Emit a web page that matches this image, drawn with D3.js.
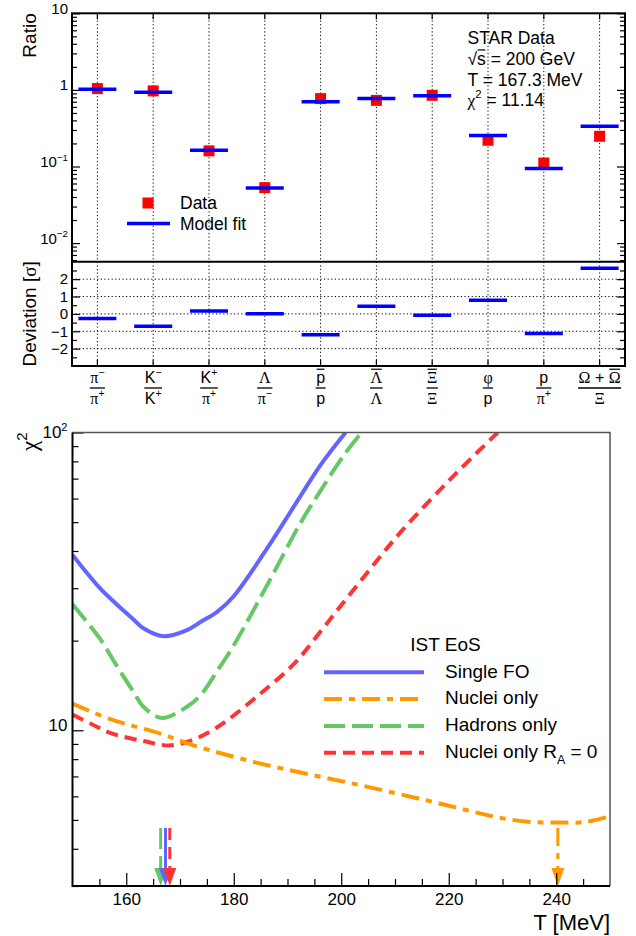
<!DOCTYPE html>
<html>
<head>
<meta charset="utf-8">
<script src="https://cdn.jsdelivr.net/npm/d3@7"></script>
<style>
  body { margin: 0; background: #fff; }
  text { font-family: "Liberation Sans", Arial, sans-serif; fill: #000; }
</style>
</head>
<body>
<svg id="chart" width="636" height="936"></svg>
<script>
/* Particle ratios (top) and chi2 vs T scan (bottom). */

// ---- ratio panel data ----
var ratioNum = ["π^{−}", "K^{−}", "K^{+}", "Λ", "#bar{p}", "#bar{Λ}", "#bar{Ξ}", "φ", "p", "Ω + #bar{Ω}"],
  ratioDen = ["π^{+}", "K^{+}", "π^{+}", "π^{−}", "p", "Λ", "Ξ", "p", "π^{+}", "Ξ"],
  ratioData = [1.04, 0.97, 0.16, 0.053, 0.77, 0.73, 0.85, 0.22, 0.111, 0.248],
  ratioModel = [1.02, 0.93, 0.163, 0.0524, 0.70, 0.77, 0.84, 0.253, 0.094, 0.335],
  ratioDeviation = [-0.27, -0.71, 0.16, 0.01, -1.2, 0.44, -0.08, 0.79, -1.13, 2.63],
  ratioTicks = [0.01, 0.1, 1, 10],
  ratioTickLabels = ["10^{−2}", "10^{−1}", "1", "10"],
  devTicks = [-2, -1, 0, 1, 2],
  fitInfo = ["STAR Data", "√#bar{s} = 200 GeV", "T = 167.3 MeV", "χ^{2} = 11.14"];

// ---- chi2 scan data ----
var tSingleFO = [150, 155.1, 158.2, 161.3, 163.2, 166.9, 171.3, 173.8, 176.9, 180, 186.2, 192.5, 196.2, 200.8],
  chi2SingleFO = [38.8, 30.0, 26.5, 23.6, 22.0, 20.7, 21.7, 23.1, 25.0, 28.2, 40.8, 61.5, 78, 100],
  tNuclei = [150, 157, 166.3, 172.5, 185, 203.7, 215.8, 221.1, 226, 230.4, 235.4, 240.3, 245.3, 250],
  chi2Nuclei = [12.3, 10.9, 9.75, 8.9, 7.73, 6.53, 5.82, 5.52, 5.25, 5.05, 4.92, 4.90, 4.92, 5.14],
  tHadrons = [150, 155.1, 158.2, 161.3, 163.2, 166.6, 171.3, 173.8, 176.9, 180, 186.2, 192.5, 196.2, 200.5, 203.8],
  chi2Hadrons = [26.5, 20.3, 16.5, 13.5, 12.0, 11.0, 12.0, 13.1, 15.8, 19.3, 30.7, 50, 64, 84, 100],
  tNucleiRA0 = [150, 153.5, 157, 163.2, 168.2, 172.5, 175.6, 178.8, 185, 191.2, 196, 200, 205.5, 211.1, 220.4, 229.1],
  chi2NucleiRA0 = [11.3, 10.5, 9.8, 9.2, 8.9, 9.3, 9.9, 10.8, 13.3, 16.7, 21.3, 26.3, 35, 46.4, 70, 100],
  seriesNames = ["Single FO", "Nuclei only", "Hadrons only", "Nuclei only R_{A} = 0"],
  minimumT = [167.3, 240.3, 166.4, 168.1],
  arrowTopChi2 = 4.7,
  tTicks = [160, 180, 200, 220, 240],
  chi2Ticks = [10, 100],
  chi2TickLabels = ["10", "10^{2}"];

var svg = d3.select("#chart");

// Writes ROOT-like rich text (^{} sup, _{} sub, #bar{} overline) into a text element.
function richText(text, str, size) {
  var parts = str.split(/(\^\{[^}]*\}|_\{[^}]*\}|#bar\{[^}]*\})/).filter(function (s) { return s.length; }),
    shift = 0;
  text.attr("font-size", size);
  parts.forEach(function (p) {
    var kind = "n", t = p;
    if (p.indexOf("^{") === 0) { kind = "sup"; t = p.slice(2, -1); }
    else if (p.indexOf("_{") === 0) { kind = "sub"; t = p.slice(2, -1); }
    else if (p.indexOf("#bar{") === 0) { kind = "bar"; t = p.slice(5, -1); }
    var target = kind === "sup" ? -0.42 * size : kind === "sub" ? 0.3 * size : 0;
    t.match(/[\u0370-\u03ff]+|[^\u0370-\u03ff]+/g).forEach(function (r, k) {
      var ts = text.append("tspan").text(r).classed("ovl", kind === "bar");
      if (k === 0) ts.attr("dy", target - shift);
      if (kind === "sup" || kind === "sub") ts.attr("font-size", size * 0.65);
      if (/[\u0370-\u03ff]/.test(r)) ts.attr("font-family", "Liberation Serif");
    });
    shift = target;
  });
}

// Draws overlines over the #bar{} tspans of an unrotated text element.
function drawBars(g, text, baseline, size) {
  var cur = text.node().getBBox().x;
  text.selectAll("tspan").each(function () {
    var w = this.getComputedTextLength();
    if (d3.select(this).classed("ovl")) {
      g.append("line")
        .attr("x1", cur + 0.5).attr("x2", cur + w - 0.5)
        .attr("y1", baseline - 0.86 * size).attr("y2", baseline - 0.86 * size)
        .attr("stroke", "#000").attr("stroke-width", 1.2);
    }
    cur += w;
  });
}

function label(g, x, y, str, size, anchor) {
  var t = g.append("text").attr("x", x).attr("y", y).attr("text-anchor", anchor || "start");
  richText(t, str, size);
  drawBars(g, t, y, size);
  return t;
}

// Replace plain tick labels of an axis group by rich text.
function richTicks(g, values, labels, size) {
  g.selectAll(".tick text").each(function (d) {
    var i = values.indexOf(d);
    if (i < 0 || this.textContent === "") return;
    var t = d3.select(this).text("").attr("dy", "0.35em");
    richText(t, labels[i], size);
  });
}

// ================= TOP: ratios =================
var ratioG = svg.append("g"),
  left = 72, right = 625, yTop = 13.3, ySplit = 261.8, yBot = 366,
  cats = d3.range(ratioNum.length),
  x = d3.scalePoint().domain(cats).range([left, right]).padding(0.455),
  yRatio = d3.scaleLog().domain([0.0057, 10]).range([ySplit, yTop]),
  yDev = d3.scaleLinear().domain([-3, 3]).range([yBot, ySplit]),
  barW = 38;

// dotted grid
ratioG.selectAll(".vgrid").data(cats).enter().append("line")
  .attr("x1", function (d) { return x(d); })
  .attr("x2", function (d) { return x(d); })
  .attr("y1", yTop).attr("y2", yBot)
  .attr("stroke", "#000").attr("stroke-width", 1).attr("stroke-dasharray", "1.2,2.4");
ratioG.selectAll(".hgrid").data(devTicks).enter().append("line")
  .attr("x1", left).attr("x2", right)
  .attr("y1", function (d) { return yDev(d); })
  .attr("y2", function (d) { return yDev(d); })
  .attr("stroke", "#000").attr("stroke-width", 1).attr("stroke-dasharray", "1.2,2.4");

// y axes for ratio panel
var minorRatio = [];
[0.001, 0.01, 0.1, 1].forEach(function (dec) {
  d3.range(2, 10).forEach(function (m) {
    var v = dec * m;
    if (v >= 0.0057 && v <= 10) minorRatio.push(v);
  });
});

function tickAxes(g, scale, majors, minors, majorLen, minorLen, fmt) {
  g.append("g").attr("transform", "translate(" + left + ",0)")
    .call(d3.axisLeft(scale).tickValues(majors).tickSizeInner(-majorLen).tickSizeOuter(0).tickPadding(4).tickFormat(fmt));
  g.append("g").attr("transform", "translate(" + left + ",0)")
    .call(d3.axisLeft(scale).tickValues(minors).tickSizeInner(-minorLen).tickSizeOuter(0).tickFormat(""));
  g.append("g").attr("transform", "translate(" + right + ",0)")
    .call(d3.axisRight(scale).tickValues(majors).tickSizeInner(-majorLen).tickSizeOuter(0).tickFormat(""));
  g.append("g").attr("transform", "translate(" + right + ",0)")
    .call(d3.axisRight(scale).tickValues(minors).tickSizeInner(-minorLen).tickSizeOuter(0).tickFormat(""));
  g.selectAll(".domain").remove();
  g.selectAll("g").attr("font-family", null).attr("font-size", null);
  g.selectAll(".tick line").attr("stroke", "#000").attr("stroke-width", 1.2);
}

var ratioAxis = ratioG.append("g");
tickAxes(ratioAxis, yRatio, ratioTicks, minorRatio, 8, 5, function (d) { return String(d); });
richTicks(ratioAxis, ratioTicks, ratioTickLabels, 15);

var devAxis = ratioG.append("g");
tickAxes(devAxis, yDev, devTicks, [-2.5, -1.5, -0.5, 0.5, 1.5, 2.5], 8, 5, d3.format("d"));
devAxis.selectAll(".tick text").attr("font-size", 15);

// category ticks on top and bottom edges
ratioG.selectAll(".ctick").data(cats).enter().append("path")
  .attr("d", function (d) {
    return "M" + x(d) + "," + yTop + "v6M" + x(d) + "," + yBot + "v-6";
  })
  .attr("stroke", "#000").attr("stroke-width", 1.2);

// data squares then model bars
ratioG.selectAll(".data").data(ratioData).enter().append("rect")
  .attr("x", function (d, i) { return x(i) - 5.5; })
  .attr("y", function (d) { return yRatio(d) - 5.5; })
  .attr("width", 11).attr("height", 11)
  .attr("fill", "#ff0000");
ratioG.selectAll(".model").data(ratioModel).enter().append("line")
  .attr("x1", function (d, i) { return x(i) - barW / 2; })
  .attr("x2", function (d, i) { return x(i) + barW / 2; })
  .attr("y1", function (d) { return yRatio(d); })
  .attr("y2", function (d) { return yRatio(d); })
  .attr("stroke", "#0000ff").attr("stroke-width", 3.5);
ratioG.selectAll(".dev").data(ratioDeviation).enter().append("line")
  .attr("x1", function (d, i) { return x(i) - barW / 2; })
  .attr("x2", function (d, i) { return x(i) + barW / 2; })
  .attr("y1", function (d) { return yDev(d); })
  .attr("y2", function (d) { return yDev(d); })
  .attr("stroke", "#0000ff").attr("stroke-width", 3.5);

// frames
ratioG.append("rect").attr("x", left).attr("y", yTop).attr("width", right - left).attr("height", yBot - yTop)
  .attr("fill", "none").attr("stroke", "#000").attr("stroke-width", 2);
ratioG.append("line").attr("x1", left).attr("x2", right).attr("y1", ySplit).attr("y2", ySplit)
  .attr("stroke", "#000").attr("stroke-width", 2);

// axis titles
var rt = ratioG.append("text").attr("transform", "translate(36," + yTop + ") rotate(-90)").attr("text-anchor", "end");
richText(rt, "Ratio", 19);
var dt = ratioG.append("text").attr("transform", "translate(36," + (yDev(0)) + ") rotate(-90)").attr("text-anchor", "middle");
richText(dt, "Deviation [σ]", 19);

// category fraction labels
cats.forEach(function (i) {
  var g = ratioG.append("g"),
    n = label(g, x(i), 383, ratioNum[i], 16, "middle"),
    dn = label(g, x(i), 403.5, ratioDen[i], 16, "middle"),
    w = Math.max(n.node().getComputedTextLength(), dn.node().getComputedTextLength()) + 1;
  g.append("line").attr("x1", x(i) - w / 2).attr("x2", x(i) + w / 2)
    .attr("y1", 388).attr("y2", 388).attr("stroke", "#000").attr("stroke-width", 1.3);
});

// legend
ratioG.append("rect").attr("x", 142.5).attr("y", 197.5).attr("width", 11).attr("height", 11).attr("fill", "#ff0000");
ratioG.append("line").attr("x1", 127).attr("x2", 170).attr("y1", 223.5).attr("y2", 223.5)
  .attr("stroke", "#0000ff").attr("stroke-width", 3.5);
label(ratioG, 180, 208.5, "Data", 17.5);
label(ratioG, 180, 229.5, "Model fit", 17.5);

// fit info
fitInfo.forEach(function (s, i) {
  label(ratioG, 467.5, [44.3, 65, 85.7, 105.7][i], s, 17.5);
});

// ================= BOTTOM: chi2 scan =================
var scanG = svg.append("g"),
  bLeft = 72.5, bRight = 610, bTop = 432.5, bBot = 886,
  xT = d3.scaleLinear().domain([150, 250]).range([bLeft, bRight]),
  yChi = d3.scaleLog().domain([3, 100]).range([bBot, bTop]),
  colors = ["#6464ff", "#ff9900", "#64c864", "#ff3434"],
  dashes = [null, "18,7,6,7", "21,7", "12,7"],
  seriesT = [tSingleFO, tNuclei, tHadrons, tNucleiRA0],
  seriesChi2 = [chi2SingleFO, chi2Nuclei, chi2Hadrons, chi2NucleiRA0];

scanG.append("clipPath").attr("id", "clipChi")
  .append("rect").attr("x", bLeft).attr("y", bTop).attr("width", bRight - bLeft).attr("height", bBot - bTop);

var line = d3.line()
  .x(function (d) { return xT(d[0]); })
  .y(function (d) { return yChi(d[1]); })
  .curve(d3.curveCatmullRom.alpha(0.5));

// draw order: R_A = 0, nuclei, hadrons, single FO
[3, 1, 2, 0].forEach(function (s) {
  scanG.append("path")
    .datum(d3.zip(seriesT[s], seriesChi2[s]))
    .attr("d", line)
    .attr("clip-path", "url(#clipChi)")
    .attr("fill", "none")
    .attr("stroke", colors[s])
    .attr("stroke-width", 4)
    .attr("stroke-dasharray", dashes[s]);
});

// arrows marking the minima
[1, 2, 0, 3].forEach(function (s) {
  var ax = xT(minimumT[s]), headTop = bBot - 18;
  scanG.append("line")
    .attr("x1", ax).attr("x2", ax)
    .attr("y1", yChi(arrowTopChi2)).attr("y2", headTop)
    .attr("stroke", colors[s]).attr("stroke-width", 3)
    .attr("stroke-dasharray", dashes[s]);
  scanG.append("path")
    .attr("d", "M" + (ax - 6.5) + "," + headTop + "L" + (ax + 6.5) + "," + headTop + "L" + ax + "," + bBot + "Z")
    .attr("fill", colors[s]);
});

// axes
var xAxisG = scanG.append("g").attr("transform", "translate(0," + bBot + ")");
xAxisG.call(d3.axisBottom(xT).tickValues(tTicks).tickSizeInner(-13).tickSizeOuter(0).tickPadding(7));
xAxisG.append("g").call(d3.axisBottom(xT).tickValues(d3.range(155, 250, 5).filter(function (v) {
  return tTicks.indexOf(v) < 0;
})).tickSizeInner(-7).tickSizeOuter(0).tickFormat(""));
xAxisG.selectAll(".domain").remove();
xAxisG.attr("font-family", null).attr("font-size", 17);
xAxisG.selectAll("g").attr("font-family", null);

var minorChi = [3, 4, 5, 6, 7, 8, 9, 20, 30, 40, 50, 60, 70, 80, 90];
var yAxisG = scanG.append("g").attr("transform", "translate(" + bLeft + ",0)");
yAxisG.call(d3.axisLeft(yChi).tickValues(chi2Ticks).tickSizeInner(-11).tickSizeOuter(0).tickPadding(5));
yAxisG.append("g").call(d3.axisLeft(yChi).tickValues(minorChi).tickSizeInner(-6).tickSizeOuter(0).tickFormat(""));
yAxisG.selectAll(".domain").remove();
yAxisG.attr("font-family", null);
yAxisG.selectAll("g").attr("font-family", null);
yAxisG.selectAll(".tick line").attr("stroke", "#000").attr("stroke-width", 1.2);
xAxisG.selectAll(".tick line").attr("stroke", "#000").attr("stroke-width", 1.2);
richTicks(yAxisG, chi2Ticks, chi2TickLabels, 17);
yAxisG.selectAll(".tick text").filter(function (d) { return d === 100; }).attr("y", 5);

// frame: thin grey top/right, thick black left/bottom
scanG.append("path").attr("d", "M" + bLeft + "," + bTop + "H" + bRight + "V" + bBot)
  .attr("fill", "none").attr("stroke", "#555").attr("stroke-width", 1.5);
scanG.append("path").attr("d", "M" + bLeft + "," + bTop + "V" + bBot + "H" + bRight)
  .attr("fill", "none").attr("stroke", "#000").attr("stroke-width", 2);

// titles
label(scanG, bRight, 930, "T [MeV]", 22, "end");
var ct = scanG.append("text").attr("transform", "translate(37," + bTop + ") rotate(-90)").attr("text-anchor", "end");
richText(ct, "χ^{2}", 23);

// legend
label(scanG, 445.5, 651, "IST EoS", 19, "middle");
[672.3, 699.1, 725.9, 752.7].forEach(function (ry, s) {
  scanG.append("line").attr("x1", 324).attr("x2", 424).attr("y1", ry).attr("y2", ry)
    .attr("stroke", colors[s]).attr("stroke-width", 4).attr("stroke-dasharray", dashes[s]);
  label(scanG, 445, ry + 5.3, seriesNames[s], 19);
});
</script>
</body>
</html>
